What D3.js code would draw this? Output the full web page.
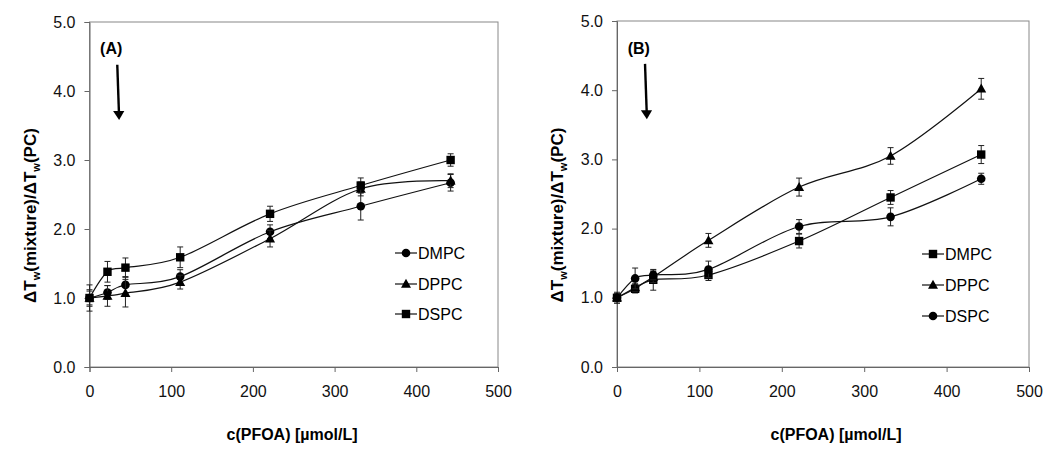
<!DOCTYPE html>
<html>
<head>
<meta charset="utf-8">
<script src="https://cdn.jsdelivr.net/npm/d3@7"></script>
<style>
  body { margin: 0; background: #fff; }
  svg { font-family: "Liberation Sans", Arial, sans-serif; }
</style>
</head>
<body>
<svg id="chart" width="1050" height="469"></svg>
<script>
// concentrations of PFOA (umol/L)
const conc = [0, 22, 44, 111, 221, 332, 442];

// panel A
const a_dmpc = [1.0, 1.08, 1.19, 1.31, 1.96, 2.33, 2.67];
const a_dmpc_err = [0.12, 0.1, 0.12, 0.1, 0.1, 0.2, 0.12];
const a_dppc = [1.0, 1.03, 1.07, 1.23, 1.86, 2.58, 2.70];
const a_dppc_err = [0.1, 0.15, 0.2, 0.1, 0.12, 0.1, 0.1];
const a_dspc = [1.0, 1.38, 1.44, 1.59, 2.22, 2.63, 3.0];
const a_dspc_err = [0.19, 0.15, 0.14, 0.15, 0.11, 0.11, 0.09];

// panel B
const b_dmpc = [1.0, 1.13, 1.26, 1.33, 1.82, 2.45, 3.07];
const b_dmpc_err = [0.06, 0.06, 0.15, 0.08, 0.1, 0.1, 0.13];
const b_dppc = [1.0, 1.15, 1.30, 1.83, 2.60, 3.05, 4.02];
const b_dppc_err = [0.08, 0.06, 0.08, 0.1, 0.13, 0.12, 0.15];
const b_dspc = [1.0, 1.28, 1.33, 1.41, 2.03, 2.17, 2.72];
const b_dspc_err = [0.05, 0.15, 0.07, 0.12, 0.1, 0.13, 0.08];

const xTicks = [0, 100, 200, 300, 400, 500];
const yTicks = [0, 1, 2, 3, 4, 5];

const panels = [
    {
        label: "(A)", left: 89.5, right: 498, top: 22, bottom: 367,
        titleX: 292, legendX: 395, legendY: [253, 284, 314],
        series: [
            { name: "DMPC", values: a_dmpc, err: a_dmpc_err, symbol: "circle" },
            { name: "DPPC", values: a_dppc, err: a_dppc_err, symbol: "triangle" },
            { name: "DSPC", values: a_dspc, err: a_dspc_err, symbol: "square" }
        ]
    },
    {
        label: "(B)", left: 617, right: 1029, top: 21, bottom: 367,
        titleX: 836, legendX: 922, legendY: [254, 285, 316],
        series: [
            { name: "DMPC", values: b_dmpc, err: b_dmpc_err, symbol: "square" },
            { name: "DPPC", values: b_dppc, err: b_dppc_err, symbol: "triangle" },
            { name: "DSPC", values: b_dspc, err: b_dspc_err, symbol: "circle" }
        ]
    }
];

const svg = d3.select("#chart");

function marker(g, symbol) {
    if (symbol === "circle") {
        g.append("circle").attr("r", 4.3).attr("fill", "#000");
    } else if (symbol === "square") {
        g.append("rect").attr("x", -4.2).attr("y", -4.2)
            .attr("width", 8.4).attr("height", 8.4).attr("fill", "#000");
    } else {
        g.append("path").attr("d", "M0,-5.2L5,3.8L-5,3.8Z").attr("fill", "#000");
    }
}

function drawPanel(p) {
    const x = d3.scaleLinear().domain([0, 500]).range([p.left, p.right]);
    const y = d3.scaleLinear().domain([0, 5]).range([p.bottom, p.top]);
    const g = svg.append("g");

    // plot frame
    g.append("rect")
        .attr("x", p.left).attr("y", p.top)
        .attr("width", p.right - p.left).attr("height", p.bottom - p.top)
        .attr("fill", "none").attr("stroke", "#888").attr("stroke-width", 1);

    // axes
    g.append("g")
        .attr("transform", `translate(0,${p.bottom})`)
        .call(d3.axisBottom(x).tickValues(xTicks).tickSize(5).tickPadding(14).tickFormat(d3.format("d")))
        .call(a => a.select(".domain").attr("stroke", "#666"))
        .call(a => a.selectAll(".tick line").attr("stroke", "#666"))
        .call(a => a.selectAll("text").attr("font-size", 16).attr("fill", "#111")
            .attr("font-family", "Liberation Sans, Arial, sans-serif"));

    g.append("g")
        .attr("transform", `translate(${p.left},0)`)
        .call(d3.axisLeft(y).tickValues(yTicks).tickSize(5).tickPadding(9).tickFormat(d3.format(".1f")))
        .call(a => a.select(".domain").attr("stroke", "#666"))
        .call(a => a.selectAll(".tick line").attr("stroke", "#666"))
        .call(a => a.selectAll("text").attr("font-size", 16).attr("fill", "#111")
            .attr("font-family", "Liberation Sans, Arial, sans-serif"));

    // axis titles
    g.append("text")
        .attr("x", p.titleX)
        .attr("y", 440)
        .attr("text-anchor", "middle")
        .attr("font-size", 16).attr("font-weight", "bold")
        .text("c(PFOA) [µmol/L]");

    const yt = g.append("text")
        .attr("transform", `translate(${p.left - 54},${(p.top + p.bottom) / 2 + 21}) rotate(-90)`)
        .attr("text-anchor", "middle")
        .attr("font-size", 17).attr("font-weight", "bold");
    yt.append("tspan").text("ΔT");
    yt.append("tspan").attr("font-size", 11).attr("dy", 4).text("w");
    yt.append("tspan").attr("dy", -4).text("(mixture)/ΔT");
    yt.append("tspan").attr("font-size", 11).attr("dy", 4).text("w");
    yt.append("tspan").attr("dy", -4).text("(PC)");

    // panel label and arrow
    g.append("text")
        .attr("x", x(13)).attr("y", y(4.53))
        .attr("font-size", 16).attr("font-weight", "bold")
        .text(p.label);

    const ax0 = x(34), ax1 = x(36);
    g.append("line")
        .attr("x1", ax0).attr("y1", y(4.38))
        .attr("x2", ax1).attr("y2", y(3.7))
        .attr("stroke", "#000").attr("stroke-width", 2.4);
    g.append("path")
        .attr("d", `M${ax1 - 5.8},${y(3.71)}L${ax1 + 5.4},${y(3.71)}L${ax1 + 0.2},${y(3.58)}Z`)
        .attr("fill", "#000");

    const line = d3.line()
        .x((d, i) => x(conc[i]))
        .y(d => y(d))
        .curve(d3.curveCatmullRom.alpha(0));

    p.series.forEach((s, si) => {
        const sg = g.append("g");
        sg.append("path")
            .attr("d", line(s.values))
            .attr("fill", "none").attr("stroke", "#111").attr("stroke-width", 1.2);

        // error bars
        s.values.forEach((v, i) => {
            const cx = x(conc[i]);
            sg.append("line")
                .attr("x1", cx).attr("x2", cx)
                .attr("y1", y(v - s.err[i])).attr("y2", y(v + s.err[i]))
                .attr("stroke", "#222").attr("stroke-width", 1);
            [v - s.err[i], v + s.err[i]].forEach(e => {
                sg.append("line")
                    .attr("x1", cx - 3).attr("x2", cx + 3)
                    .attr("y1", y(e)).attr("y2", y(e))
                    .attr("stroke", "#222").attr("stroke-width", 1);
            });
        });

        s.values.forEach((v, i) => {
            const mg = sg.append("g").attr("transform", `translate(${x(conc[i])},${y(v)})`);
            marker(mg, s.symbol);
        });

        // legend
        const ly = p.legendY[si];
        const lg = g.append("g");
        lg.append("line")
            .attr("x1", p.legendX).attr("x2", p.legendX + 22)
            .attr("y1", ly).attr("y2", ly)
            .attr("stroke", "#111").attr("stroke-width", 1.2);
        marker(lg.append("g").attr("transform", `translate(${p.legendX + 11},${ly})`), s.symbol);
        lg.append("text")
            .attr("x", p.legendX + 23).attr("y", ly + 6)
            .attr("font-size", 16)
            .text(s.name);
    });
}

panels.forEach(drawPanel);
</script>
</body>
</html>
